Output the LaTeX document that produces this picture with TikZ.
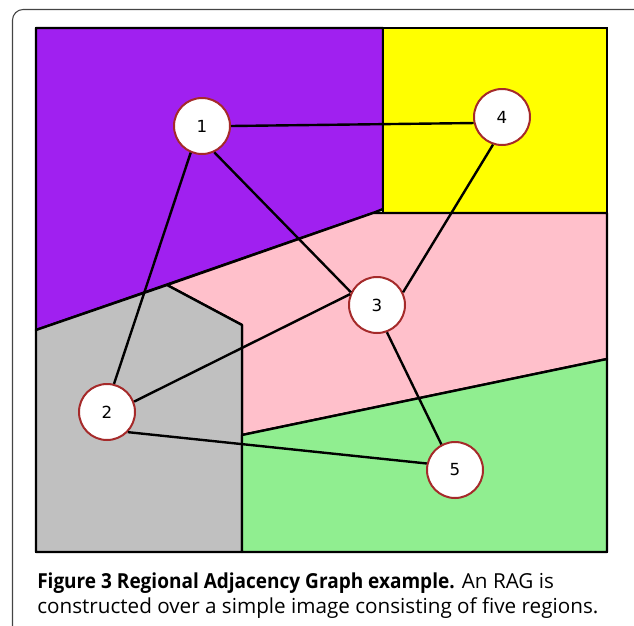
\documentclass[tikz,border=0pt]{standalone}
\usepackage{fontspec}
\setmainfont{Open Sans}[BoldFeatures={FakeStretch=0.92}]
\newfontfamily\numfont{DejaVu Sans}
\definecolor{rpurple}{HTML}{A020F0}
\definecolor{ryellow}{HTML}{FFFF00}
\definecolor{rpink}{HTML}{FFC0CB}
\definecolor{rgrey}{HTML}{C0C0C0}
\definecolor{rgreen}{HTML}{90EE90}
\definecolor{rbrown}{HTML}{A52A2A}
\definecolor{framegray}{HTML}{444444}
\begin{document}
\begin{tikzpicture}[x=0.75pt,y=-0.75pt,
  region/.style={draw=black,line width=1.8pt,line join=round},
  vertex/.style={circle,draw=rbrown,line width=1.5pt,fill=white,minimum size=42pt,inner sep=0pt,font=\numfont\fontsize{12.5}{14}\selectfont},
  edge/.style={draw=black,line width=1.8pt},
  caption/.style={anchor=base west,inner sep=0pt,font=\fontsize{15.5}{18}\selectfont}]
\useasboundingbox (0,0) rectangle (634,625);
% outer frame
\begin{scope}
\clip (0,0) rectangle (634,625);
\draw[framegray,line width=0.8pt,rounded corners=8pt] (12.5,9.5) rectangle (700,700);
\end{scope}
% regions
\path[region,fill=rpurple] (36,28) -- (383,28) -- (383,209) -- (373,213) -- (36,330) -- cycle;
\path[region,fill=ryellow] (383,28) -- (607,28) -- (607,213) -- (383,213) -- cycle;
\path[region,fill=rpink] (373,213) -- (607,213) -- (607,359) -- (242,435) -- (242,325) -- (167,285) -- cycle;
\path[region,fill=rgrey] (36,330) -- (167,285) -- (242,325) -- (242,552) -- (36,552) -- cycle;
\path[region,fill=rgreen] (242,435) -- (607,359) -- (607,552) -- (242,552) -- cycle;
\draw[black,line width=2.2pt] (36,28) rectangle (607,552);
% vertices
\node[vertex] (n1) at (202,126) {1};
\node[vertex] (n2) at (107,412) {2};
\node[vertex] (n3) at (377,305) {3};
\node[vertex] (n4) at (502,117) {4};
\node[vertex] (n5) at (455,470) {5};
% edges
\draw[edge] (n1.0) -- (n4.192);
\draw[edge] (n1.-65) -- (n3.154);
\draw[edge] (n1.-113) -- (n2.76);
\draw[edge] (n3.26) -- (n4.-108);
\draw[edge] (n3.158) -- (n2.21);
\draw[edge] (n3.-70) -- (n5.118);
\draw[edge] (n2.-44) -- (n5.167);
% caption
\node[caption] (cap1) at (37,588) {\textbf{Figure 3 Regional Adjacency Graph example.} An RAG is};
\node[caption] (cap2) at (37,613) {constructed over a simple image consisting of five regions.};
\end{tikzpicture}
\end{document}
